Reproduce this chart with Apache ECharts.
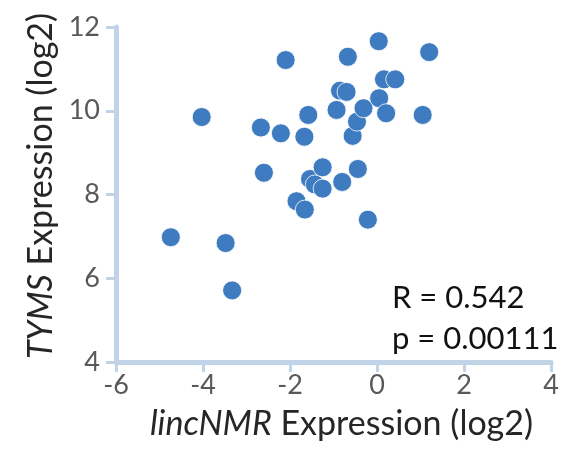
<!DOCTYPE html>
<html><head><meta charset="utf-8">
<script src="https://cdn.jsdelivr.net/npm/echarts@6/dist/echarts.min.js"></script>
<style>html,body{margin:0;padding:0;background:#fff}#c{width:578px;height:450px}</style>
</head><body><div id="c"></div>
<script>
const xValues = [-4.74,-4.03,-3.48,-3.33,-2.67,-2.60,-2.21,-2.10,-1.85,-1.66,-1.67,-1.58,-1.54,-1.43,-1.25,-1.25,-0.93,-0.85,-0.70,-0.67,-0.80,-0.56,-0.46,-0.44,-0.31,-0.21,0.04,0.05,0.16,0.21,0.42,1.05,1.20];
const yValues = [6.98,9.85,6.84,5.71,9.60,8.52,9.46,11.21,7.84,7.64,9.38,9.90,8.37,8.24,8.14,8.65,10.02,10.48,10.45,11.29,8.30,9.40,9.74,8.61,10.06,7.40,11.66,10.30,10.75,9.94,10.75,9.90,11.40];
const xTicks = [-6,-4,-2,0,2,4];
const yTicks = [4,6,8,10,12];
const statLines = ['R = 0.542','p = 0.00111'];

const data = xValues.map((x,i)=>[x,yValues[i]]);
const axisCol = '#c1d4e7';
const font = 'Lato';
const titleSize = 34;
const chart = echarts.init(document.getElementById('c'));
chart.setOption({
  animation:false,
  grid:{left:116,right:27,top:27,bottom:88},
  xAxis:{type:'value',min:xTicks[0],max:xTicks[xTicks.length-1],interval:2,
    splitLine:{show:false},
    axisLine:{show:true,onZero:false,lineStyle:{color:axisCol,width:5}},
    axisTick:{show:true,length:10,lineStyle:{color:axisCol,width:3}},
    axisLabel:{color:'#595959',fontFamily:font,fontSize:27,margin:10},
    name:'{i|lincNMR} Expression (log2)',nameLocation:'middle',nameGap:45,
    nameTextStyle:{color:'#262626',fontFamily:font,fontSize:titleSize,padding:[0,0,0,16],
      rich:{i:{fontStyle:'italic',fontFamily:font,fontSize:titleSize,color:'#262626'}}}
  },
  yAxis:{type:'value',min:yTicks[0],max:yTicks[yTicks.length-1],interval:2,
    splitLine:{show:false},
    axisLine:{show:true,onZero:false,lineStyle:{color:axisCol,width:5}},
    axisTick:{show:true,length:10,lineStyle:{color:axisCol,width:3}},
    axisLabel:{color:'#595959',fontFamily:font,fontSize:27,margin:16},
    name:'{i|TYMS} Expression (log2)',nameLocation:'middle',nameGap:58,
    nameTextStyle:{color:'#262626',fontFamily:font,fontSize:titleSize,padding:[0,0,0,17],
      rich:{i:{fontStyle:'italic',fontFamily:font,fontSize:titleSize,color:'#262626'}}}
  },
  series:[{type:'scatter',data:data,symbolSize:19,
    itemStyle:{color:'#3e7bc0',borderColor:'#ffffff',borderWidth:0.8,opacity:1}}],
  graphic:[
    {type:'text',left:392,top:282,style:{text:statLines[0],font:'31px Lato',fill:'#111'}},
    {type:'text',left:392,top:323,style:{text:statLines[1],font:'31px Lato',fill:'#111'}}
  ]
});
</script></body></html>
